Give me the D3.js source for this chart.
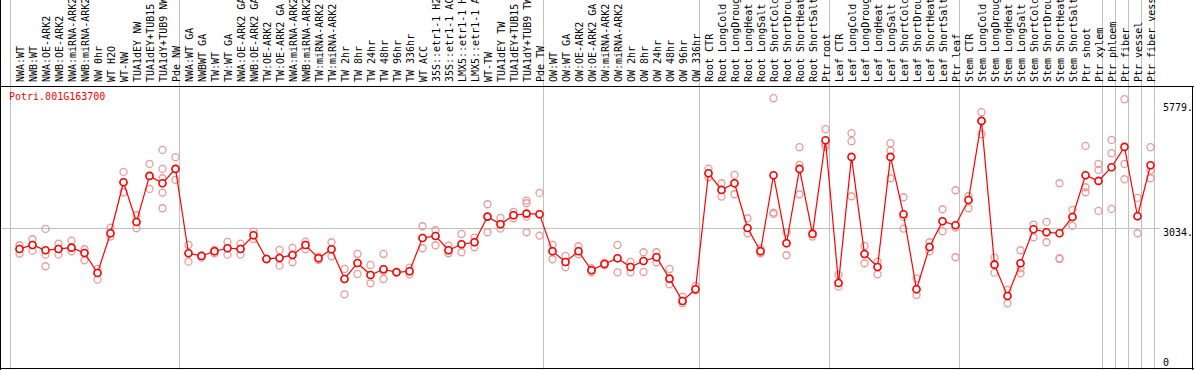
<!DOCTYPE html>
<html>
<head>
<meta charset="utf-8">
<script src="https://cdn.jsdelivr.net/npm/d3@7"></script>
<style>
body { margin: 0; background: #fff; }
text { font-family: "DejaVu Sans Mono", monospace; font-size: 10px; }
</style>
</head>
<body>
<script>
// chart data
var gene = "Potri.001G163700";

var samples = ["NWA:WT","NWB:WT","NWA:OE-ARK2","NWB:OE-ARK2","NWA:miRNA-ARK2","NWB:miRNA-ARK2","NW 0hr","WT H2O","WT-NW","TUA1dEY NW","TUA1dEY+TUB15","TUA1dY+TUB9 NW","Pde NW",
	"NWA:WT GA","NWBWT GA","TW:WT","TW:WT GA","NWA:OE-ARK2 GA","NWB:OE-ARK2 GA","TW:OE-ARK2","TW:OE-ARK2 GA","NWA:miRNA-ARK2","NWB:miRNA-ARK2","TW:miRNA-ARK2","TW:miRNA-ARK2","TW 2hr","TW 8hr","TW 24hr","TW 48hr","TW 96hr","TW 336hr","WT ACC","35S::etr1-1 H2O","35S::etr1-1 ACC","LMX5::etr1-1 H2O","LMX5::etr1-1 ACC","WT-TW","TUA1dEY TW","TUA1dEY+TUB15","TUA1dY+TUB9 TW","Pde TW",
	"OW:WT","OW:WT GA","OW:OE-ARK2","OW:OE-ARK2 GA","OW:miRNA-ARK2","OW:miRNA-ARK2","OW 2hr","OW 8hr","OW 24hr","OW 48hr","OW 96hr","OW 336hr",
	"Root CTR","Root LongCold","Root LongDrought","Root LongHeat","Root LongSalt","Root ShortCold","Root ShortDrought","Root ShortHeat","Root ShortSalt","Ptr root",
	"Leaf CTR","Leaf LongCold","Leaf LongDrought","Leaf LongHeat","Leaf LongSalt","Leaf ShortCold","Leaf ShortDrought","Leaf ShortHeat","Leaf ShortSalt","Ptr leaf",
	"Stem CTR","Stem LongCold","Stem LongDrought","Stem LongHeat","Stem LongSalt","Stem ShortCold","Stem ShortDrought","Stem ShortHeat","Stem ShortSalt","Ptr shoot","Ptr xylem",
	"Ptr phloem","Ptr fiber","Ptr vessel","Ptr fiber vessel"];

// number of samples in each experiment block
var groupSizes = [13, 28, 12, 10, 10, 11, 1, 1, 1, 1];

var means = [2574,2662,2545,2574,2603,2486,2046,2919,4041,3168,4180,4019,4334,
	2479,2420,2523,2589,2574,2875,2354,2376,2442,2662,2369,2567,1914,2266,2002,2127,2061,2083,2816,2860,2545,2677,2721,3285,3117,3315,3351,3337,
	2523,2288,2523,2105,2244,2369,2178,2310,2391,1921,1430,1687,
	4239,3872,4019,3036,2523,4195,2699,4334,2904,4965,
	1826,4598,2464,2178,4598,3337,1687,2618,3183,3095,
	3652,5390,2229,1540,2259,3007,2941,2919,3278,4195,4070,
	4371,4818,3293,4415];

var replicates = [[2655,2574,2471],[2787,2662,2537],[3014,2449,2193],[2691,2574,2449],[2757,2603,2523],[2567,2486,2325],[2134,2046,1899],[3043,2919,2845],[4268,4041,3821],[3315,3168,3029],[4444,4180,3894],[4752,4334,4129,3813,3469],[4591,4334,4092],
	[2662,2479,2295],[2435,2420,2383],[2552,2523,2479],[2728,2589,2449],[2691,2574,2449],[2955,2875,2794],[2361,2354,2339],[2552,2376,2207],[2596,2442,2281],[2735,2662,2567],[2405,2369,2332],[2721,2567,2413],[2134,1914,1577],[2464,2266,2024],[2222,2002,1819],[2464,2127,2090,1914],[2075,2061,2053],[2163,2083,2017],[3073,2816,2589],[2985,2860,2655],[2647,2545,2479],[2904,2677,2501],[2823,2721,2611],[3557,3285,2941],[3256,3117,3021],[3388,3315,3249],[3637,3579,3285,2941],[3806,3337,2867],
	[2662,2523,2347],[2420,2288,2171],[2633,2530,2457],[2149,2105,2061],[2273,2244,2215],[2662,2369,2061],[2288,2178,2061],[2501,2310,2068],[2501,2391,2281],[2134,1921,1797],[1518,1430,1379],[1760,1687,1665],
	[4341,4239,4151],[4019,3872,3725],[4202,4019,3777],[3249,3036,2919],[2581,2523,2479],[5889,3373,3344],[2941,2699,2435],[4811,4422,3777],[2933,2904,2845],[5207,4877,4825],
	[2002,1826,1745],[5119,4943,3733],[2640,2464,2259],[2295,2178,2017],[4899,4737,4129],[3711,3278,3021],[1929,1687,1562],[2721,2618,2523],[3447,3183,2963],[3865,3043,2391],
	[3740,3652,3469],[5581,5390,5097],[2383,2229,2053],[1672,1540,1379],[2545,2259,2149,2039],[3109,3007,2831],[3168,2941,2721],[4019,2369,2354],[3432,3278,3080],[4840,3931,3821],[4444,4312,3410],
	[4972,4679,3454],[5867,4444,4107],[3696,3293,2919],[4811,4297,4129]];

var tickValues = [0, 3034, 5779];

var w = 1194;
var h = 370;
var plotTop = 87;
var plotRight = 1156;

var svg = d3.select("body")
	.append("svg")
	.attr("width", w)
	.attr("height", h);

// scales
var x_scale = d3.scaleBand()
	.domain(d3.range(samples.length))
	.range([13, 13 + samples.length * 13]);

var y_scale = d3.scaleLinear()
	.domain([0, 5779])
	.range([366, 103.2]);

function cx(i) { return x_scale(i) + x_scale.bandwidth() / 2; }

// group separator lines
var starts = [0];
groupSizes.forEach(function(s) { starts.push(starts[starts.length - 1] + s); });

svg.selectAll("line.sep")
	.data(starts)
	.enter()
	.append("line")
	.attr("class", "sep")
	.attr("x1", function(d) { return Math.round(x_scale.step() * d + x_scale.range()[0] - 3) + 0.5; })
	.attr("x2", function(d) { return Math.round(x_scale.step() * d + x_scale.range()[0] - 3) + 0.5; })
	.attr("y1", 0)
	.attr("y2", h)
	.attr("stroke", "#c0c0c0");

// horizontal reference line
svg.append("line")
	.attr("x1", 1)
	.attr("x2", 1160)
	.attr("y1", Math.round(y_scale(3034)) + 0.5)
	.attr("y2", Math.round(y_scale(3034)) + 0.5)
	.attr("stroke", "#c0c0c0");

// frame
svg.append("line").attr("x1", 0).attr("x2", w).attr("y1", plotTop - 0.5).attr("y2", plotTop - 0.5).attr("stroke", "#000");
svg.append("line").attr("x1", 0).attr("x2", w).attr("y1", h - 1.5).attr("y2", h - 1.5).attr("stroke", "#000");
svg.append("line").attr("x1", 0.5).attr("x2", 0.5).attr("y1", 0).attr("y2", h).attr("stroke", "#000");
svg.append("line").attr("x1", w - 1.5).attr("x2", w - 1.5).attr("y1", plotTop).attr("y2", h).attr("stroke", "#000");

// sample labels
svg.selectAll("text.lab")
	.data(samples)
	.enter()
	.append("text")
	.attr("class", "lab")
	.attr("transform", function(d, i) { return "translate(" + (cx(i) + 4) + ",82) rotate(-90)"; })
	.attr("fill", "#000")
	.text(function(d) { return d; });

// title
svg.append("text")
	.attr("x", 9)
	.attr("y", 100)
	.attr("fill", "#ff0000")
	.text(gene);

// value labels on the right
svg.selectAll("text.tick")
	.data(tickValues)
	.enter()
	.append("text")
	.attr("class", "tick")
	.attr("x", 1163)
	.attr("y", function(d) { return Math.min(y_scale(d) + 8, 366); })
	.attr("fill", "#000")
	.text(function(d) { return d == 0 ? "0" : d + "."; });

// replicate points
var reps = [];
replicates.forEach(function(r, i) {
	r.forEach(function(v) { reps.push([i, v]); });
});

svg.selectAll("circle.rep")
	.data(reps)
	.enter()
	.append("circle")
	.attr("class", "rep")
	.attr("cx", function(d) { return cx(d[0]); })
	.attr("cy", function(d) { return y_scale(d[1]); })
	.attr("r", 3.5)
	.attr("fill", "none")
	.attr("stroke", "#eb9a9a")
	.attr("stroke-width", 1.3);

// mean line
var line = d3.line()
	.x(function(d, i) { return cx(i); })
	.y(function(d) { return y_scale(d); });

svg.append("path")
	.datum(means)
	.attr("d", line)
	.attr("fill", "none")
	.attr("stroke", "#ff0000")
	.attr("stroke-width", 1.2);

svg.selectAll("circle.mean")
	.data(means)
	.enter()
	.append("circle")
	.attr("class", "mean")
	.attr("cx", function(d, i) { return cx(i); })
	.attr("cy", function(d) { return y_scale(d); })
	.attr("r", 3.5)
	.attr("fill", "#fff")
	.attr("stroke", "#ff0000")
	.attr("stroke-width", 1.6);
</script>
</body>
</html>
